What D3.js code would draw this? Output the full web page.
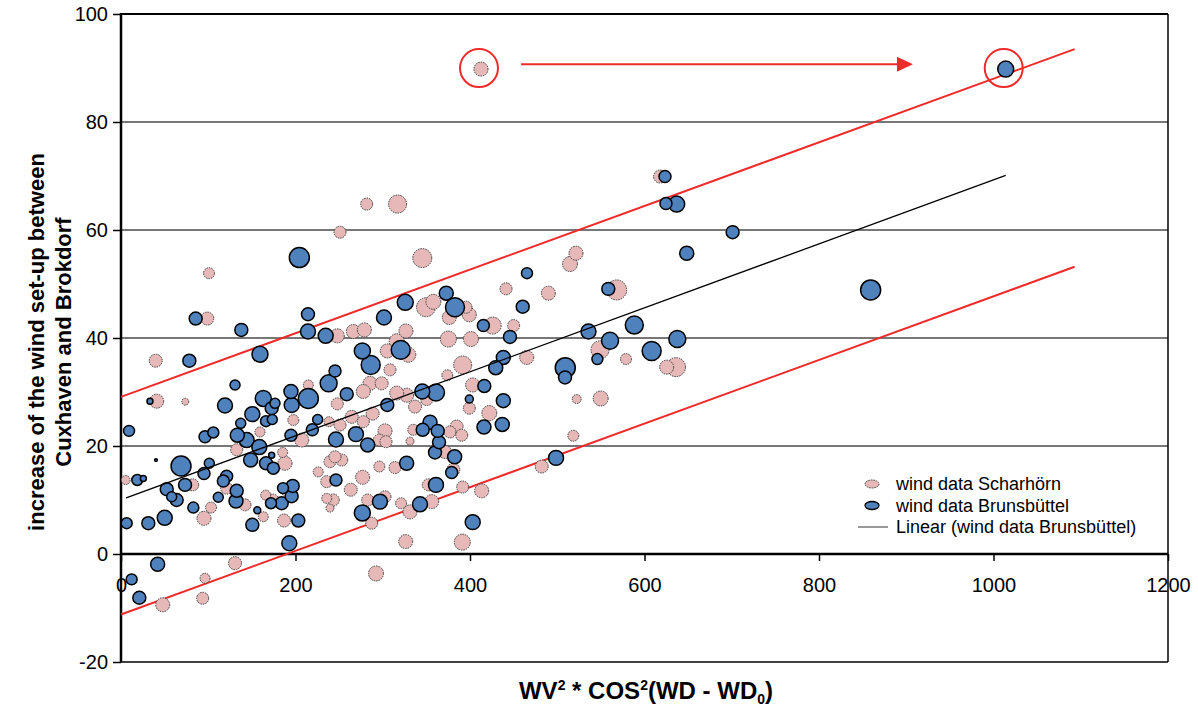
<!DOCTYPE html>
<html><head><meta charset="utf-8">
<script src="https://cdn.jsdelivr.net/npm/d3@7"></script>
<style>
body{margin:0;background:#fff}
text{font-family:"Liberation Sans",Arial,sans-serif;fill:#000}
</style>
</head><body>
<svg id="chart" width="1198" height="715"></svg>
<script>
// ---------- data ----------
const xTicks = [0, 200, 400, 600, 800, 1000, 1200];
const yTicks = [-20, 0, 20, 40, 60, 80, 100];
const gridValues = [20, 40, 60, 80];

// [x, y, bubble size]
const scharhorn = [
[281.6,64.8,36],[317,64.8,81],[251,59.6,36],[100.9,52,30],[98.9,43.6,42],[247.9,40.4,49],[39.8,35.8,42],[214.7,31.3,25],
[40.9,28.3,49],[73.7,28.2,12],[197.5,24.8,30],[247.9,27.8,36],[238.4,24.5,25],[132.6,19.3,36],[185.3,18.8,25],[188,16.8,49],
[207.1,21.1,49],[226.1,15.2,25],[239.5,17.1,36],[253,17.4,36],[235.8,13.4,36],[243.3,10,36],[235.8,10.3,25],[239.5,8.5,16],
[5.4,13.7,20],[82.2,12.8,36],[103.2,8.6,30],[95.1,6.6,49],[121.1,12.2,36],[142.1,9.1,36],[163.1,6.9,25],[188,11.9,30],
[186.8,6.2,42],[173.9,10,36],[165.8,10.9,25],[130.7,-1.7,42],[96.3,-4.5,25],[93.6,-8.2,36],[47.8,-9.4,49],[159.3,22.6,25],
[345.3,54.8,90],[521.5,55.7,49],[514.6,53.7,56],[568.1,48.9,100],[441.3,49.1,36],[489.8,48.3,49],[358,46.7,56],[349.6,45.7,90],
[395.4,45.7,36],[399.2,44.3,49],[376.3,43.8,49],[326.6,41.3,49],[426,42.3,72],[450,42.3,36],[266.3,41.2,49],[278.9,41.5,49],
[305.2,37.6,49],[316,39.4,56],[329.3,36.9,56],[375.2,39.8,64],[401.1,39.8,56],[308.3,34.1,36],[391.6,35,81],[465,36.4,49],
[549,37.8,81],[578.8,36.1,30],[374,33.1,30],[327.4,29.4,49],[285.4,31.6,49],[277.7,30.1,49],[316,29.8,49],[337,27.3,42],
[403,31.3,49],[399.2,27,36],[422.1,26.1,56],[522.3,28.7,20],[549.8,28.8,56],[518.4,21.9,30],[482.2,16.2,42],[413.4,11.7,49],
[391.6,12.4,36],[391.2,2.2,64],[326.3,2.3,49],[292.3,-3.6,56],[287.3,5.7,36],[302.6,10.6,36],[282.7,10,36],[331.2,7.8,49],
[321,9.4,30],[356.1,9.7,49],[352.2,12.8,36],[314,16,36],[296.1,16.2,30],[380.9,15.6,42],[371.3,18.9,42],[377.1,22.6,36],
[384.7,23.6,42],[390.5,22,36],[331.2,20.9,16],[335,23,30],[277,14.2,49],[263.3,11.9,42],[302.6,22.8,49],[296.1,21.1,36],
[303.7,20.8,36],[288.4,26,42],[264.4,25.4,42],[277.7,24.5,36],[251,23.9,36],[245.3,18,36],[617.8,69.9,42],[636.1,34.6,90],
[625.4,34.6,49],[412.6,89.8,49],[350.4,28.6,36],[298.8,31.6,42]
];

const brunsbuettel = [
[204.4,54.9,100],[85.6,43.6,42],[137.9,41.5,42],[214.3,44.4,42],[214.3,41.2,56],[234.6,40.4,56],[159.3,37,64],[78.3,35.8,42],
[130.7,31.3,25],[245.3,33.9,36],[238,31.6,72],[33.2,28.3,9],[119.2,27.5,56],[163.1,28.8,64],[172.7,27,42],[176.5,27.9,25],
[194.8,30.1,49],[195.6,27.6,56],[214.7,28.8,100],[150.5,25.9,56],[137.2,24.2,25],[166.2,24.6,30],[173.4,24.9,25],[225.4,24.9,25],
[258.7,29.6,42],[9.2,22.8,30],[105.8,22.5,30],[96.3,21.7,36],[133.3,22,49],[144,21.1,56],[158.5,19.8,56],[148.6,17.4,49],
[166.2,16.8,42],[174.6,15.9,36],[172.7,18.3,9],[194.8,22,36],[219.3,23,36],[246.4,21.2,56],[246.4,13.7,36],[40.1,17.4,2],
[68.8,16.3,100],[101.2,16.8,25],[95.1,14.9,36],[121.1,14.4,36],[117.3,13.5,36],[73.4,12.8,42],[52.4,12,42],[25.6,14,9],
[18.7,13.7,30],[63.8,10,42],[58.1,10.6,25],[82.9,8.6,30],[50.1,6.7,56],[31.3,5.7,42],[6.5,5.7,30],[111.5,10.5,25],
[132.6,11.7,42],[131.8,9.8,49],[156.2,8.1,12],[150.5,5.4,42],[171.9,9.4,30],[184.2,9.4,42],[195.6,10.7,42],[196.8,12.6,42],
[185.7,12.2,30],[203.2,6.2,42],[192.9,2,56],[42,-1.9,49],[12.2,-4.7,30],[21,-8.1,42],[465.3,52,30],[558.5,49.1,42],
[460.4,45.8,42],[372.8,48.3,49],[382.8,45.7,90],[325.8,46.6,64],[301.4,43.8,56],[415.3,42.3,36],[445.8,40.2,42],[276.6,37.6,64],
[286.2,35,90],[320.6,37.8,90],[438.2,36.4,49],[429.5,34.5,49],[509.2,34.5,100],[508.9,32.7,42],[535.8,41.2,56],[560.5,39.5,72],
[546,36.1,30],[588.3,42.4,81],[305.2,27.6,42],[345.3,30.1,56],[361,29.9,72],[416.4,31.1,42],[399.2,28.7,16],[438.2,28.4,49],
[416,23.5,49],[437,24,49],[498.6,17.8,56],[403.1,5.9,56],[276.6,7.6,64],[296.8,9.7,56],[342.7,9.2,56],[361,12.8,56],
[327.4,16.8,49],[359.9,18.8,42],[364.5,20.7,42],[382.4,18,49],[379,15.1,36],[354.2,24.4,49],[345.8,23,42],[363,22.8,42],
[269.3,22.2,56],[282.7,20.2,49],[623.5,69.9,36],[624.6,64.9,36],[636.9,64.8,64],[701,59.6,42],[648.4,55.7,49],[859.2,48.9,100],
[637.6,39.8,72],[608.2,37.6,90],[1014,89.8,64]
];

// trend line (Linear, wind data Brunsbüttel) and the red envelope lines
const trendX = [6, 1014], trendY = [10.4, 70.1];
const bandX = [0, 1093], upperY = [29.1, 93.5], lowerY = [-11.2, 53.2];
// highlighted points and arrow
const highlights = [[412.6, 89.8], [1014, 89.8]];
const arrowX = [458.5, 907.7], arrowY = 90.7;

const legendItems = ["wind data Scharhörn", "wind data Brunsbüttel", "Linear (wind data Brunsbüttel)"];

// ---------- drawing ----------
const svg = d3.select("#chart");
const x = d3.scaleLinear().domain([0, 1200]).range([121, 1168]);
const y = d3.scaleLinear().domain([-20, 100]).range([662, 14]);
const r = d3.scaleSqrt().domain([0, 100]).range([0, 10]);
const RED = "#ee2a2a";
const PINK = "#e6b9b8", BLUE = "#4f81bd";

// gridlines
svg.append("g").selectAll("line").data(gridValues).join("line")
  .attr("x1", x(0)).attr("x2", x(1200)).attr("y1", d => y(d)).attr("y2", d => y(d))
  .attr("stroke", "#4a4a4a").attr("stroke-width", 1.5);

// frame
svg.append("line").attr("x1", x(0)).attr("x2", x(1200)).attr("y1", y(100)).attr("y2", y(100)).attr("stroke", "#000").attr("stroke-width", 2);
svg.append("line").attr("x1", x(0)).attr("x2", x(1200)).attr("y1", y(-20)).attr("y2", y(-20)).attr("stroke", "#000").attr("stroke-width", 1.5);
svg.append("line").attr("x1", x(1200)).attr("x2", x(1200)).attr("y1", y(100)).attr("y2", y(-20)).attr("stroke", "#000").attr("stroke-width", 1.5);

// y axis
const yAxis = svg.append("g").attr("transform", `translate(${x(0)},0)`)
  .call(d3.axisLeft(y).tickValues(yTicks).tickSize(8).tickPadding(5).tickFormat(d => String(d)));
yAxis.select(".domain").remove();
yAxis.selectAll("line").attr("stroke", "#000").attr("stroke-width", 1.5);
yAxis.selectAll("text").style("font-size", "20px").attr("font-family", null);
svg.append("line").attr("x1", x(0)).attr("x2", x(0)).attr("y1", y(100) - 1).attr("y2", y(-20)).attr("stroke", "#000").attr("stroke-width", 2.5);

// x axis at y = 0
const xAxis = svg.append("g").attr("transform", `translate(0,${y(0)})`)
  .call(d3.axisBottom(x).tickValues(xTicks).tickSize(7).tickPadding(17).tickFormat(d => String(d)));
xAxis.select(".domain").remove();
xAxis.selectAll("line").attr("stroke", "#000").attr("stroke-width", 1.5);
xAxis.selectAll("text").style("font-size", "20px").attr("font-family", null);
svg.append("line").attr("x1", x(0)).attr("x2", x(1200)).attr("y1", y(0)).attr("y2", y(0)).attr("stroke", "#000").attr("stroke-width", 2.5);

// red envelope lines
const line = d3.line().x(d => x(d[0])).y(d => y(d[1]));
[upperY, lowerY].forEach(ys => {
  svg.append("path").attr("d", line(bandX.map((v, i) => [v, ys[i]])))
    .attr("fill", "none").attr("stroke", RED).attr("stroke-width", 2);
});

// bubbles
function bubbles(data, fill, stroke, width, dash) {
  const sorted = data.slice().sort((a, b) => b[2] - a[2]);
  svg.append("g").selectAll("circle").data(sorted).join("circle")
    .attr("cx", d => x(d[0])).attr("cy", d => y(d[1])).attr("r", d => r(d[2]))
    .attr("fill", fill).attr("stroke", stroke).attr("stroke-width", width)
    .attr("stroke-dasharray", dash);
}
bubbles(scharhorn, PINK, "#3a3a3a", 1, "1.5,1");
bubbles(brunsbuettel, BLUE, "#000", 1.5, null);

// trend line
svg.append("path").attr("d", line(trendX.map((v, i) => [v, trendY[i]])))
  .attr("fill", "none").attr("stroke", "#000").attr("stroke-width", 1.3);

// highlight circles and arrow
svg.append("g").selectAll("circle").data(highlights).join("circle")
  .attr("cx", d => x(d[0]) - 2).attr("cy", d => y(d[1]) - 1).attr("r", 19)
  .attr("fill", "none").attr("stroke", RED).attr("stroke-width", 2);
svg.append("line").attr("x1", x(arrowX[0])).attr("x2", x(arrowX[1]) - 14)
  .attr("y1", y(arrowY)).attr("y2", y(arrowY)).attr("stroke", RED).attr("stroke-width", 2);
svg.append("path")
  .attr("d", `M${x(arrowX[1])},${y(arrowY)} L${x(arrowX[1]) - 16},${y(arrowY) - 7.5} L${x(arrowX[1]) - 16},${y(arrowY) + 7.5}Z`)
  .attr("fill", RED);

// legend
const lg = svg.append("g").attr("transform", "translate(872,484)");
lg.append("ellipse").attr("cx", 0).attr("cy", 0).attr("rx", 7).attr("ry", 4)
  .attr("fill", PINK).attr("stroke", "#3a3a3a").attr("stroke-dasharray", "1.5,1");
lg.append("ellipse").attr("cx", 0).attr("cy", 21.5).attr("rx", 7).attr("ry", 4)
  .attr("fill", BLUE).attr("stroke", "#000").attr("stroke-width", 1.3);
lg.append("line").attr("x1", -14).attr("x2", 16).attr("y1", 43).attr("y2", 43).attr("stroke", "#777").attr("stroke-width", 1.5);
lg.selectAll("text").data(legendItems).join("text")
  .attr("x", 24).attr("y", (d, i) => i * 21.5 + 6).style("font-size", "18px").text(d => d);

// axis titles
const yt = svg.append("text").attr("transform", "translate(44,342) rotate(-90)")
  .attr("text-anchor", "middle").style("font-size", "22px").style("font-weight", "bold");
yt.append("tspan").attr("x", 0).attr("dy", 0).text("increase of the wind set-up between");
yt.append("tspan").attr("x", 0).attr("dy", 27).text("Cuxhaven and Brokdorf");

const xt = svg.append("text").attr("x", 646).attr("y", 699).attr("text-anchor", "middle")
  .style("font-size", "24px").style("font-weight", "bold");
xt.append("tspan").text("WV");
xt.append("tspan").attr("dy", -9).style("font-size", "14px").text("2");
xt.append("tspan").attr("dy", 9).text(" * COS");
xt.append("tspan").attr("dy", -9).style("font-size", "14px").text("2");
xt.append("tspan").attr("dy", 9).text("(WD - WD");
xt.append("tspan").attr("dy", 5).style("font-size", "14px").text("0");
xt.append("tspan").attr("dy", -5).text(")");
</script>
</body></html>
